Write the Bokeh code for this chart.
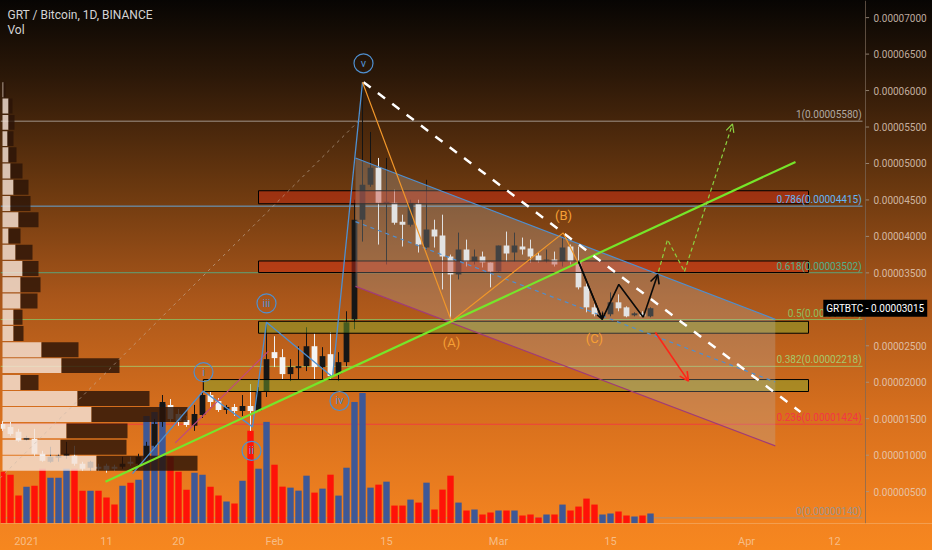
import numpy as np
import pandas as pd
from bokeh.plotting import figure
from bokeh.models import Range1d, FixedTicker, CustomJSTickFormatter, Label, Arrow, OpenHead, Span
from bokeh.core.properties import value
from bokeh.embed import file_html
from bokeh.resources import INLINE

# ---------------- data (prices in satoshi: 1 sat = 0.00000001 BTC) ----------------
first_day = "2020-12-29"
open_ = [1429, 1388, 1320, 1210, 1224, 1019, 910, 964, 992, 992, 883, 828, 842, 855, 842, 842, 910, 883,
         951, 1128, 1456, 1689, 1566, 1484, 1402, 1552, 1825, 1743, 1620, 1661, 1607, 1675, 1607, 1866,
         2413, 2344, 2112, 2194, 2221, 2494, 2208, 2385, 2112, 2276, 2863, 4229, 4708, 4940, 4448, 4462,
         4202, 4161, 4448, 3847, 4093, 4011, 3724, 3478, 3820, 3656, 3724, 3642, 3519, 3874, 3779, 3861,
         3833, 3738, 3669, 3683, 3656, 3861, 3656, 3314, 3027, 2891, 2932, 3096, 3027, 2918, 2945, 2904]
high_ = [1470, 1456, 1361, 1265, 1361, 1060, 1115, 1019, 1183, 1128, 910, 923, 883, 883, 869, 978, 978, 1019,
         1183, 1497, 1825, 1770, 1634, 1538, 1689, 1866, 1866, 1784, 1689, 1702, 1825, 1975, 1934, 2795,
         2631, 2454, 2317, 2494, 2754, 2672, 2481, 2686, 2413, 2973, 4503, 6115, 5432, 5076, 5076, 4639,
         4298, 4503, 4503, 4776, 4229, 4298, 3751, 4052, 3956, 3820, 3792, 3642, 3874, 4066, 4052, 3984,
         3956, 3779, 3820, 3792, 3984, 3888, 3861, 3369, 3068, 2973, 3232, 3205, 3041, 2959, 2973, 3027]
low_ = [1333, 1265, 1183, 1197, 992, 910, 896, 910, 951, 855, 787, 787, 787, 760, 787, 814, 855, 855,
        923, 1087, 1388, 1456, 1402, 1388, 1333, 1511, 1661, 1593, 1566, 1538, 1538, 1333, 1593, 1798,
        2208, 2044, 2016, 2044, 2153, 2044, 2044, 2044, 2016, 2221, 2727, 3929, 4680, 3888, 3615, 4161,
        3861, 4134, 3779, 3820, 3847, 3273, 2863, 3410, 3587, 3615, 3574, 3301, 3505, 3656, 3656, 3751,
        3642, 3642, 3642, 3587, 3587, 3615, 3273, 2959, 2904, 2863, 2904, 2973, 2891, 2904, 2891, 2891]
close_ = [1361, 1292, 1197, 1238, 1019, 923, 978, 992, 1019, 883, 814, 910, 814, 801, 814, 883, 883, 978,
          1128, 1429, 1729, 1497, 1470, 1415, 1566, 1825, 1729, 1620, 1661, 1607, 1675, 1607, 1866, 2317,
          2331, 2112, 2208, 2221, 2494, 2208, 2358, 2085, 2276, 2822, 4229, 4708, 4940, 4462, 4475, 4188,
          4161, 4462, 3888, 4093, 3997, 3724, 3478, 3820, 3656, 3724, 3642, 3519, 3874, 3765, 3874, 3820,
          3724, 3669, 3683, 3615, 3847, 3656, 3301, 3027, 2932, 2918, 3096, 3014, 2904, 2945, 2904, 3015]
volume = [52, 49, 28, 37, 38, 55, 46, 46, 55, 55, 33, 33, 33, 26, 19, 38, 41, 44, 108, 112,
          120, 67, 52, 34, 51, 49, 37, 28, 22, 20, 43, 93, 55, 102, 59, 37, 36, 33, 48, 31,
          35, 49, 28, 56, 122, 131, 36, 39, 42, 18, 18, 24, 21, 41, 14, 34, 48, 21, 13, 14,
          9, 11, 13, 13, 13, 8, 9, 6, 9, 9, 19, 13, 17, 25, 19, 9, 10, 12, 8, 7, 8, 10]

# visible-range volume profile (row centre price, up volume, down volume)
vp_price = [889, 1108, 1333, 1559, 1777, 1996, 2228, 2447, 2669, 2892, 3115, 3337,
            3560, 3783, 4005, 4228, 4451, 4673, 4896, 5119, 5341, 5564, 5787, 6010]
vp_up = [94, 58, 64, 89, 75, 18, 59, 39, 11, 11, 18, 18, 20, 13, 6, 16, 8, 11, 8, 6, 5, 6, 6, 1]
vp_down = [101, 66, 61, 96, 72, 18, 58, 37, 10, 9, 17, 20, 16, 17, 12, 20, 20, 15, 12, 8, 6, 6, 4, 2]

# fibonacci retracement
fib_ratio = ["0", "0.236", "0.382", "0.5", "0.618", "0.786", "1"]
fib_price = [140, 1424, 2218, 2860, 3502, 4415, 5580]
fib_color = ["#9a948c", "#f23645", "#a6c86a", "#8cc060", "#52b08a", "#64b5f6", "#b0a8a0"]

# price-axis ticks and x-axis ticks
price_ticks = [500, 1000, 1500, 2000, 2500, 3000, 3500, 4000, 4500, 5000, 5500, 6000, 6500, 7000]
tick_dates = ["2021-01-01", "2021-01-11", "2021-01-20", "2021-02-01", "2021-02-15",
              "2021-03-01", "2021-03-15", "2021-04-01", "2021-04-12"]
tick_labels = ["2021", "11", "20", "Feb", "15", "Mar", "15", "Apr", "12"]

# drawings (day index from 2021-01-01, price in sat)
zone_left = [29, 29, 29, 22.1]
zone_right = [97.75, 97.75, 97.75, 97.75]
zone_bottom = [4448, 3505, 2672, 1873]
zone_top = [4626, 3663, 2836, 2037]
zone_color = ["#d82a14", "#d82a14", "#7fb02c", "#7fb02c"]

ch_day = [41.125, 93.6]
ch_top = [5076, 2863]
ch_mid = [4202, 2003]
ch_bot = [3314, 1128]

wave_day = [13.25, 22.1, 28.25, 30.0, 38.25, 42.0]
wave_price = [746, 1880, 1388, 2822, 2071, 6115]
wave_lab = ["i", "ii", "iii", "iv", "v"]
wave_lab_day = [22.125, 28.125, 30.0, 39.125, 42.125]
wave_lab_price = [2139, 1060, 3082, 1743, 6374]

abc_day = [42.0, 53.125, 67.09, 69.0]
abc_price = [6115, 2836, 4048, 3628]
abc_lab = ["(A)", "(B)", "(C)"]
abc_lab_day = [53.125, 67.125, 71.0]
abc_lab_price = [2549, 4284, 2604]

zig_day = [69.0, 71.96, 74.04, 77.09, 78.9]
zig_price = [3656, 2863, 3341, 2891, 3478]

green_day = [9.875, 96.125]
green_price = [637, 5022]
white_day = [42.125, 96.75]
white_price = [6115, 1593]
red_day = [78.6, 82.75]
red_price = [2686, 2016]
gdash_day = [79.0, 80.125, 82.25, 88.25]
gdash_price = [3519, 3956, 3519, 5541]
pink_day = [18.6, 30.25]
pink_price = [1169, 2426]
fibline_day = [-8.3, 41.5]
fibline_price = [140, 5580]

# ---------------- derived ----------------
dates = pd.date_range(first_day, periods=len(close_), freq="D")
x = np.array((dates - pd.Timestamp("2021-01-01")).days, dtype=float)
o = np.array(open_, float); h = np.array(high_, float)
l = np.array(low_, float); c = np.array(close_, float)
up = c >= o
btop = np.maximum(o, c); bbot = np.minimum(o, c)
btop = np.where(btop - bbot < 14, bbot + 14, btop)
tick_x = [float((pd.Timestamp(d) - pd.Timestamp("2021-01-01")).days) for d in tick_dates]

BLUE = "#4f8fcf"
FONT = "Roboto"
W, H = 932, 550
SCALE_X = 104.875  # day where the price scale begins

p = figure(width=W, height=H, output_backend="svg", toolbar_location=None,
           x_range=Range1d(-3.25, (W - 26) / 8), y_range=Range1d(63, 7235),
           y_axis_location="right", min_border_left=0, min_border_top=0,
           min_border_right=0, min_border_bottom=25)
p.extra_y_ranges = {"vol": Range1d(0, 525)}
if p.title is not None:
    p.title.visible = False
p.background_fill_color = None
p.border_fill_color = None
p.outline_line_color = None
p.styles = {"background": "linear-gradient(180deg, #070503 0%, #2c1808 14%, #6a380f 34%, "
                          "#a9561a 54%, #d56e1d 74%, #f38320 95%, #f6871f 100%)"}
p.xgrid.visible = False
p.ygrid.visible = False

# price axis (labels drawn inside the price-scale strip)
p.yaxis.ticker = FixedTicker(ticks=price_ticks)
p.yaxis.formatter = CustomJSTickFormatter(code="return (tick/1e8).toFixed(8);")
p.yaxis.major_label_text_font_size = "10px"
p.yaxis.major_label_text_font = FONT
p.yaxis.major_label_text_color = "#e6d4c4"
p.yaxis.major_label_text_alpha = 0.8
p.yaxis.major_tick_out = 0
p.yaxis.major_tick_in = 0
p.yaxis.major_tick_line_color = None
p.yaxis.minor_tick_line_color = None
p.yaxis.major_label_standoff = -59
p.yaxis.axis_line_color = None

p.xaxis.ticker = FixedTicker(ticks=tick_x)
p.xaxis.major_label_overrides = {t: s for t, s in zip(tick_x, tick_labels)}
p.xaxis.major_label_text_font_size = "11px"
p.xaxis.major_label_text_font = FONT
p.xaxis.major_label_text_color = "#f6c79a"
p.xaxis.major_label_text_alpha = 0.85
p.xaxis.major_tick_line_color = None
p.xaxis.minor_tick_line_color = None
p.xaxis.major_label_standoff = 5
p.xaxis.axis_line_color = "#f4b070"
p.xaxis.axis_line_alpha = 0.6

# price-scale separator and its small ticks
p.add_layout(Span(location=SCALE_X, dimension="height", line_color="#7a6858", line_alpha=0.7, line_width=1))
p.segment(x0=SCALE_X, x1=SCALE_X + 0.45, y0=price_ticks, y1=price_ticks, line_color="#a89888", line_alpha=0.8)

# fib levels
p.segment(x0=-3.25, x1=104.5, y0=fib_price, y1=fib_price, line_color=fib_color, line_width=1, line_alpha=0.85)

# volume
vol_col = np.where(up, "#3e5896", "#ff1208")
p.vbar(x=x, width=0.8, top=volume, bottom=0, fill_color=vol_col, line_color=None, y_range_name="vol")

# candles
wick_col = np.where(up, "#141414", "#f0f0f0")
body_col = np.where(up, "#161616", "#f4f4f4")
p.segment(x0=x, x1=x, y0=l, y1=h, line_color=wick_col, line_width=1)
p.vbar(x=x, width=0.72, top=btop, bottom=bbot, fill_color=body_col, line_color=None)

# volume profile
vp_p = np.array(vp_price, float)
vp_l = -3.0 + np.array(vp_up, float) / 8
vp_r = vp_l + np.array(vp_down, float) / 8
p.hbar(y=vp_p, height=205, left=-3.0, right=vp_l, fill_color="#f4e2d6", fill_alpha=0.82, line_color=None)
p.hbar(y=vp_p, height=205, left=vp_l, right=vp_r, fill_color="#2b1307", fill_alpha=0.82, line_color=None)

# zones
p.quad(left=zone_left, right=zone_right, bottom=zone_bottom, top=zone_top,
       fill_color=zone_color, fill_alpha=0.45, line_color="#000000", line_width=1)

# channel
p.patch([ch_day[0], ch_day[1], ch_day[1], ch_day[0]], [ch_top[0], ch_top[1], ch_bot[1], ch_bot[0]],
        fill_color="#b8b8b8", fill_alpha=0.28, line_color=None)
p.line(ch_day, ch_top, line_color=BLUE, line_width=1.2)
p.line(ch_day, ch_mid, line_color=BLUE, line_width=1.2, line_dash="4 4")
p.line(ch_day, ch_bot, line_color="#a03c78", line_width=1.2)

# fib trend line
p.line(fibline_day, fibline_price, line_color="#c8b8a8", line_alpha=0.6, line_width=1, line_dash="3 4")
# pink line
p.line(pink_day, pink_price, line_color="#c04880", line_width=1.2)
# elliott waves
p.line(wave_day, wave_price, line_color=BLUE, line_width=1.3)
p.scatter(wave_lab_day, wave_lab_price, marker="circle", size=19, fill_color=None,
          line_color=BLUE, line_width=1.2)
p.text(wave_lab_day, wave_lab_price, text=wave_lab, text_align="center", text_baseline="middle",
       text_color=BLUE, text_font_size="11px", text_font=value(FONT))

# green support line
p.line(green_day, green_price, line_color="#76e62a", line_width=2.2)
# white dashed
p.line(white_day, white_price, line_color="#ffffff", line_width=2.5, line_dash="9 9")

# ABC
p.line(abc_day, abc_price, line_color="#f0962a", line_width=1.2)
p.text(abc_lab_day, abc_lab_price, text=abc_lab, text_align="center", text_baseline="middle",
       text_color="#f6a035", text_font_size="13px", text_font=value(FONT))

# black zigzag with arrows
p.line(zig_day[:-1], zig_price[:-1], line_color="#0a0a0a", line_width=1.6)
p.add_layout(Arrow(end=OpenHead(size=9, line_color="#0a0a0a", line_width=1.6),
                   x_start=zig_day[-2], y_start=zig_price[-2], x_end=zig_day[-1], y_end=zig_price[-1],
                   line_color="#0a0a0a", line_width=1.6))
p.add_layout(Arrow(end=OpenHead(size=6, line_color="#0a0a0a", line_width=1.4),
                   x_start=zig_day[0], y_start=zig_price[0], x_end=zig_day[1], y_end=zig_price[1],
                   line_color="#0a0a0a", line_width=1.6))

# red arrow
p.add_layout(Arrow(end=OpenHead(size=9, line_color="#ff2418", line_width=1.6),
                   x_start=red_day[0], y_start=red_price[0], x_end=red_day[1], y_end=red_price[1],
                   line_color="#ff2418", line_width=1.6))

# green dashed arrow
p.line(gdash_day[:-1], gdash_price[:-1], line_color="#8bd040", line_width=1.2, line_dash="4 3")
p.add_layout(Arrow(end=OpenHead(size=8, line_color="#8bd040", line_width=1.2),
                   x_start=gdash_day[-2], y_start=gdash_price[-2], x_end=gdash_day[-1], y_end=gdash_price[-1],
                   line_color="#8bd040", line_width=1.2, line_dash="4 3"))

# fib labels
fib_text = [f"{r}({v/1e8:.8f})" for r, v in zip(fib_ratio, fib_price)]
p.text([104.4] * len(fib_price), fib_price, text=fib_text, text_align="right", text_baseline="bottom",
       text_color=fib_color, text_font_size="10px", text_font=value(FONT), y_offset=-1)

# titles
p.add_layout(Label(x=-2.375, y=7030, text="GRT / Bitcoin, 1D, BINANCE", text_color="#d4d4d4",
                   text_font_size="12px", text_font=FONT, text_baseline="middle"))
p.add_layout(Label(x=-2.375, y=6825, text="Vol", text_color="#d4d4d4",
                   text_font_size="12px", text_font=FONT, text_baseline="middle"))

# last price label
p.add_layout(Label(x=99.6, y=close_[-1], text=f"GRTBTC - {close_[-1]/1e8:.8f}", text_color="#ffffff",
                   text_font_size="10px", text_font=FONT, text_baseline="middle",
                   background_fill_color="#000000", background_fill_alpha=1.0, padding=3))

open("out.html", "w").write(file_html(p, INLINE))
